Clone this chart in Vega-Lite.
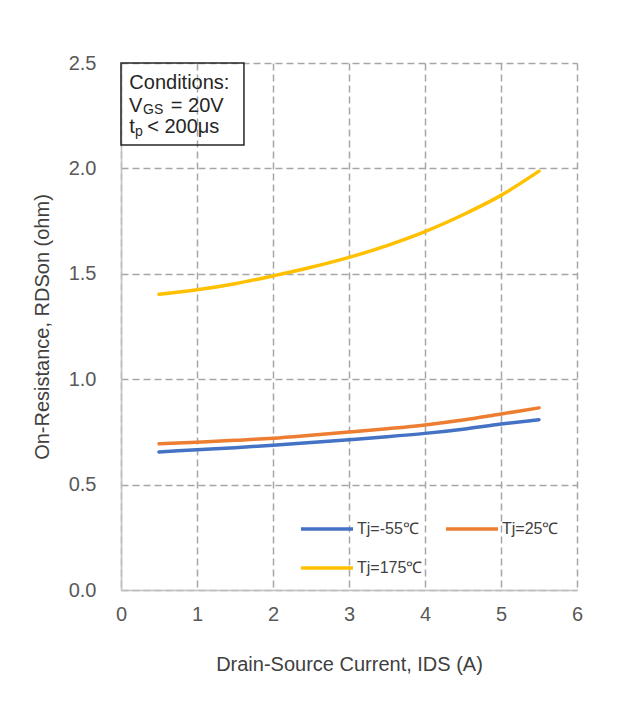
{
  "$schema": "https://vega.github.io/schema/vega-lite/v6.json",
  "width": 456,
  "height": 527,
  "padding": {"left": 32, "top": 53, "right": 10, "bottom": 10},
  "background": "white",
  "config": {
    "view": {"stroke": null},
    "font": "Liberation Sans",
    "axis": {
      "gridColor": "#a6a6a6",
      "gridDash": [7, 4],
      "gridWidth": 1.5,
      "domainColor": "#bfbfbf",
      "domainWidth": 1.5,
      "ticks": false,
      "labelFlush": false,
      "labelFontSize": 20,
      "labelColor": "#595959",
      "titleFontSize": 20,
      "titleFontWeight": "normal",
      "titleColor": "#404040"
    }
  },
  "datasets": {
    "curves": [
      {"ids": 0.5, "rds": 0.655, "tj": "Tj=-55℃"},
      {"ids": 1.0, "rds": 0.665, "tj": "Tj=-55℃"},
      {"ids": 1.5, "rds": 0.675, "tj": "Tj=-55℃"},
      {"ids": 2.0, "rds": 0.687, "tj": "Tj=-55℃"},
      {"ids": 2.5, "rds": 0.700, "tj": "Tj=-55℃"},
      {"ids": 3.0, "rds": 0.713, "tj": "Tj=-55℃"},
      {"ids": 3.5, "rds": 0.727, "tj": "Tj=-55℃"},
      {"ids": 4.0, "rds": 0.743, "tj": "Tj=-55℃"},
      {"ids": 4.5, "rds": 0.763, "tj": "Tj=-55℃"},
      {"ids": 5.0, "rds": 0.787, "tj": "Tj=-55℃"},
      {"ids": 5.5, "rds": 0.808, "tj": "Tj=-55℃"},
      {"ids": 0.5, "rds": 0.694, "tj": "Tj=25℃"},
      {"ids": 1.0, "rds": 0.701, "tj": "Tj=25℃"},
      {"ids": 1.5, "rds": 0.710, "tj": "Tj=25℃"},
      {"ids": 2.0, "rds": 0.720, "tj": "Tj=25℃"},
      {"ids": 2.5, "rds": 0.734, "tj": "Tj=25℃"},
      {"ids": 3.0, "rds": 0.749, "tj": "Tj=25℃"},
      {"ids": 3.5, "rds": 0.765, "tj": "Tj=25℃"},
      {"ids": 4.0, "rds": 0.783, "tj": "Tj=25℃"},
      {"ids": 4.5, "rds": 0.806, "tj": "Tj=25℃"},
      {"ids": 5.0, "rds": 0.835, "tj": "Tj=25℃"},
      {"ids": 5.5, "rds": 0.864, "tj": "Tj=25℃"},
      {"ids": 0.5, "rds": 1.403, "tj": "Tj=175℃"},
      {"ids": 1.0, "rds": 1.424, "tj": "Tj=175℃"},
      {"ids": 1.5, "rds": 1.453, "tj": "Tj=175℃"},
      {"ids": 2.0, "rds": 1.490, "tj": "Tj=175℃"},
      {"ids": 2.5, "rds": 1.531, "tj": "Tj=175℃"},
      {"ids": 3.0, "rds": 1.578, "tj": "Tj=175℃"},
      {"ids": 3.5, "rds": 1.634, "tj": "Tj=175℃"},
      {"ids": 4.0, "rds": 1.700, "tj": "Tj=175℃"},
      {"ids": 4.5, "rds": 1.780, "tj": "Tj=175℃"},
      {"ids": 5.0, "rds": 1.872, "tj": "Tj=175℃"},
      {"ids": 5.5, "rds": 1.987, "tj": "Tj=175℃"}
    ]
  },
  "layer": [
    {
      "data": {"name": "curves"},
      "mark": {"type": "line", "strokeWidth": 3.5, "strokeCap": "round", "interpolate": "monotone"},
      "encoding": {
        "x": {
          "field": "ids", "type": "quantitative",
          "scale": {"domain": [0, 6], "nice": false},
          "axis": {"values": [0, 1, 2, 3, 4, 5, 6], "format": "d", "title": "Drain-Source Current, IDS (A)", "labelPadding": 14, "titlePadding": 30}
        },
        "y": {
          "field": "rds", "type": "quantitative",
          "scale": {"domain": [0, 2.5], "nice": false},
          "axis": {"values": [0, 0.5, 1, 1.5, 2, 2.5], "format": ".1f", "title": "On-Resistance, RDSon (ohm)", "labelPadding": 25, "titlePadding": 16}
        },
        "color": {
          "field": "tj", "type": "nominal",
          "scale": {"domain": ["Tj=-55℃", "Tj=25℃", "Tj=175℃"], "range": ["#4472C4", "#ED7D31", "#FFC000"]},
          "legend": {
            "title": null,
            "orient": "none",
            "direction": "horizontal",
            "legendX": 178,
            "legendY": 438,
            "columns": 2,
            "columnPadding": 16,
            "rowPadding": 3,
            "symbolType": "stroke",
            "symbolSize": 2704,
            "symbolStrokeWidth": 3.5,
            "labelOffset": 2,
            "labelFontSize": 16,
            "labelColor": "#404040"
          }
        }
      }
    },
    {
      "data": {"values": [{}]},
      "mark": {"type": "rect", "fill": null, "stroke": "#262626", "strokeWidth": 1.5},
      "encoding": {
        "x": {"datum": 0},
        "x2": {"datum": 1.618},
        "y": {"datum": 2.5},
        "y2": {"datum": 2.111}
      }
    },
    {
      "data": {"values": [{}]},
      "mark": {"type": "text", "text": "Conditions:", "align": "left", "baseline": "alphabetic", "fontSize": 20, "color": "#262626"},
      "encoding": {"x": {"datum": 0.11}, "y": {"datum": 2.377}}
    },
    {
      "data": {"values": [{}]},
      "mark": {"type": "text", "text": "V", "align": "left", "baseline": "alphabetic", "fontSize": 20, "color": "#262626"},
      "encoding": {"x": {"datum": 0.105}, "y": {"datum": 2.268}}
    },
    {
      "data": {"values": [{}]},
      "mark": {"type": "text", "text": "GS", "align": "left", "baseline": "alphabetic", "fontSize": 14, "color": "#262626"},
      "encoding": {"x": {"datum": 0.29}, "y": {"datum": 2.256}}
    },
    {
      "data": {"values": [{}]},
      "mark": {"type": "text", "text": "= 20V", "align": "left", "baseline": "alphabetic", "fontSize": 20, "color": "#262626"},
      "encoding": {"x": {"datum": 0.655}, "y": {"datum": 2.268}}
    },
    {
      "data": {"values": [{}]},
      "mark": {"type": "text", "text": "t", "align": "left", "baseline": "alphabetic", "fontSize": 20, "color": "#262626"},
      "encoding": {"x": {"datum": 0.11}, "y": {"datum": 2.168}}
    },
    {
      "data": {"values": [{}]},
      "mark": {"type": "text", "text": "p", "align": "left", "baseline": "alphabetic", "fontSize": 14, "color": "#262626"},
      "encoding": {"x": {"datum": 0.184}, "y": {"datum": 2.154}}
    },
    {
      "data": {"values": [{}]},
      "mark": {"type": "text", "text": "< 200μs", "align": "left", "baseline": "alphabetic", "fontSize": 20, "color": "#262626"},
      "encoding": {"x": {"datum": 0.345}, "y": {"datum": 2.168}}
    }
  ]
}
